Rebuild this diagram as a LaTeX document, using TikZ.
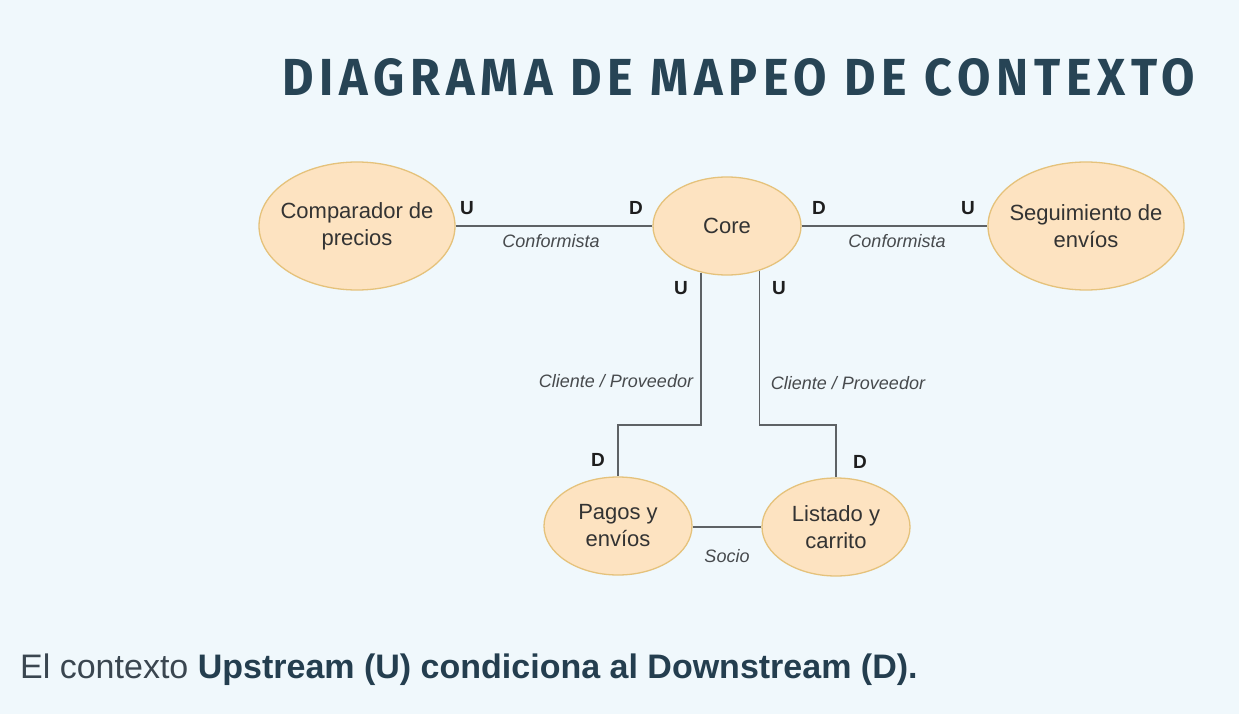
\documentclass[tikz,border=0pt]{standalone}
\usepackage{fontspec}
\usepackage{graphicx}
\setmainfont{Liberation Sans}
\newfontfamily\titlefont[LetterSpace=12]{Fira Sans}
\usetikzlibrary{shapes.geometric}
\definecolor{bgc}{HTML}{F0F8FC}
\definecolor{titlec}{HTML}{274455}
\definecolor{fillc}{HTML}{FDE3C1}
\definecolor{borderc}{HTML}{E5C27B}
\definecolor{linec}{HTML}{5E6265}
\definecolor{txtc}{HTML}{333333}
\definecolor{lblc}{HTML}{474A4D}
\definecolor{udc}{HTML}{1E1E1E}
\definecolor{bodyc}{HTML}{3A4650}
\definecolor{boldc}{HTML}{243E4F}
\tikzset{
  ctx/.style={ellipse, draw=borderc, fill=fillc, line width=1.3pt, inner sep=0pt},
  big/.style={ctx, minimum width=196pt, minimum height=128pt},
  small/.style={ctx, minimum width=148pt, minimum height=98pt},
  ctxtext/.style={inner sep=0pt, align=center, text=txtc, font=\fontsize{22}{27}\selectfont},
  conn/.style={draw=linec, line width=1.4pt},
  ud/.style={inner sep=0pt, text=udc, font=\fontsize{19}{22}\selectfont\bfseries},
  rel/.style={inner sep=0pt, text=lblc, font=\fontsize{18}{21}\selectfont\itshape}
}
\begin{document}
\begin{tikzpicture}[x=1pt,y=-1pt]
\fill[bgc] (0,0) rectangle (1239,714);
\useasboundingbox (0,0) rectangle (1239,714);

\node[anchor=west, inner sep=0pt, text=titlec] (title) at (282,77)
  {\resizebox{913pt}{37pt}{\titlefont\bfseries DIAGRAMA DE MAPEO DE CONTEXTO}};

\node[big, label={[ctxtext]center:Comparador de\\precios}] (cmp) at (357,226) {};
\node[small, label={[ctxtext]center:Core}] (core) at (727,226) {};
\node[big, label={[ctxtext]center:Seguimiento de\\envíos}] (seg) at (1086,226) {};
\node[small, label={[ctxtext]center:Pagos y\\envíos}] (pag) at (618,526) {};
\node[small, label={[ctxtext]center:Listado y\\carrito}] (lis) at (836,527) {};

\coordinate (j1) at (660,425);
\coordinate (j2) at (800,425);

\draw[conn] (cmp.east) -- (core.west);
\draw[conn] (core.east) -- (seg.west);
\draw[conn] (core.241.5) |- (j1) -| (pag.north);
\draw[conn] (core.306.9) |- (j2) -| (lis.north);
\draw[conn] (pag.east |- 0,527) -- (lis.west);

\node[ud] (u1) at (467,208) {U};
\node[ud] (d1) at (636,208) {D};
\node[ud] (d2) at (819,208) {D};
\node[ud] (u2) at (968,208) {U};
\node[ud] (u3) at (681,288) {U};
\node[ud] (u4) at (779,288) {U};
\node[ud] (d3) at (598,460) {D};
\node[ud] (d4) at (860,462) {D};

\node[rel] (r1) at (551,241) {Conformista};
\node[rel] (r2) at (897,241) {Conformista};
\node[rel] (r3) at (616,381) {Cliente / Proveedor};
\node[rel] (r4) at (848,383) {Cliente / Proveedor};
\node[rel] (r5) at (727,556) {Socio};

\node[anchor=base west, inner sep=0pt, font=\fontsize{34}{40}\selectfont] (foot) at (20,678)
  {\textcolor{bodyc}{El contexto }\textcolor{boldc}{\bfseries Upstream (U) condiciona al Downstream (D).}};
\end{tikzpicture}
\end{document}
